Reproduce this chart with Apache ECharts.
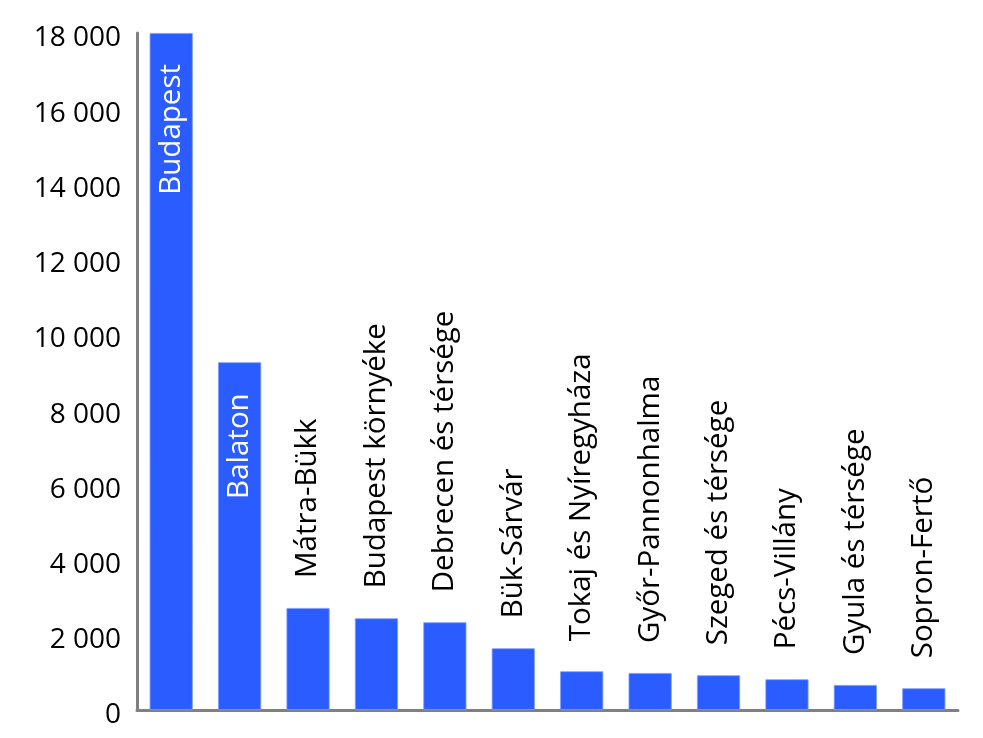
<!DOCTYPE html>
<html>
<head>
<meta charset="utf-8">
<script src="https://cdn.jsdelivr.net/npm/echarts@6/dist/echarts.min.js"></script>
<style>
html,body{margin:0;padding:0;background:#fff;}
#chart{width:983px;height:738px;}
</style>
</head>
<body>
<div id="chart"></div>
<script>
var categories = ["Budapest", "Balaton", "Mátra-Bükk", "Budapest környéke", "Debrecen és térsége", "Bük-Sárvár", "Tokaj és Nyíregyháza", "Győr-Pannonhalma", "Szeged és térsége", "Pécs-Villány", "Gyula és térsége", "Sopron-Fertő"];
var values = [18000, 9245, 2712, 2438, 2332, 1640, 1029, 984, 923, 816, 665, 577];
var yTicks = [0, 2000, 4000, 6000, 8000, 10000, 12000, 14000, 16000, 18000];

var FONT = "Open Sans";
var chart = echarts.init(document.getElementById('chart'), null, {renderer: 'canvas'});

function fmt(v) {
  var s = String(v);
  return s.replace(/\B(?=(\d{3})+(?!\d))/g, ' ');
}

var data = values.map(function (v, i) {
  var inside = v > 5000;
  return {
    value: v,
    label: inside ? {
      show: true, position: 'insideTop', distance: 31, rotate: 90,
      align: 'right', verticalAlign: 'middle', color: '#ffffff',
      formatter: categories[i]
    } : {
      show: true, position: 'top', distance: 30, rotate: 90,
      align: 'left', verticalAlign: 'middle', color: '#000000',
      formatter: categories[i]
    }
  };
});

chart.setOption({
  animation: false,
  grid: {left: 137, right: 25, top: 33, bottom: 28, containLabel: false},
  xAxis: {
    type: 'category',
    data: categories,
    axisLine: {show: true, lineStyle: {color: '#808080', width: 3}},
    axisTick: {show: false},
    axisLabel: {show: false},
    splitLine: {show: false}
  },
  yAxis: {
    type: 'value',
    min: yTicks[0],
    max: yTicks[yTicks.length - 1],
    interval: 2000,
    axisLine: {show: true, lineStyle: {color: '#808080', width: 3}},
    axisTick: {show: false},
    splitLine: {show: false},
    axisLabel: {
      color: '#000', fontFamily: FONT, fontSize: 28, margin: 16,
      verticalAlign: 'top', lineHeight: 11,
      formatter: function (v) { return fmt(v); }
    }
  },
  series: [{
    type: 'bar',
    data: data,
    barCategoryGap: '37%',
    itemStyle: {color: '#2a5cff', borderColor: '#7f9cff', borderWidth: 0.8},
    label: {fontFamily: FONT, fontSize: 29.5}
  }]
});
</script>
</body>
</html>
